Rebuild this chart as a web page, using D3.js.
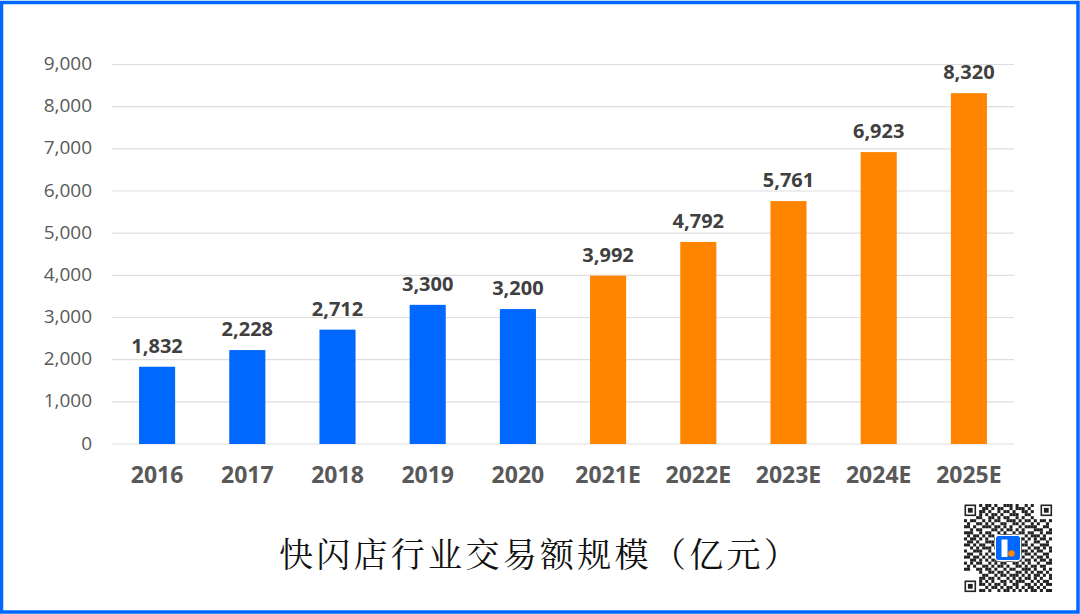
<!DOCTYPE html>
<html><head><meta charset="utf-8">
<script src="https://cdn.jsdelivr.net/npm/d3@7"></script>
<style>html,body{margin:0;padding:0;background:#fff}svg{display:block}</style></head>
<body><svg id="c" width="1080" height="614"></svg>
<script>
const categories=["2016","2017","2018","2019","2020","2021E","2022E","2023E","2024E","2025E"];
const values=[1832,2228,2712,3300,3200,3992,4792,5761,6923,8320];
const kinds=["a","a","a","a","a","e","e","e","e","e"];
const yTicks=[0,1000,2000,3000,4000,5000,6000,7000,8000,9000];
const title="快闪店行业交易额规模（亿元）";
const qrRows=[
"00000101101001110100101000000",
"00000011010110010111010000000",
"00000110100101101001101000000",
"00000101011010011100110000000",
"00001100110101100101001000000",
"10110010101100111010110101101",
"01001101010011001101001010010",
"11010011101101010010111100110",
"00101100011010110101000111001",
"11100101100101001011011001011",
"01011010110011110100101110100",
"10110101001100000011010101101",
"01101001110100000010100110010",
"11010110010100000011101001110",
"00101011101000000010010110101",
"10011100100100000011101011001",
"01100101011100000010110100110",
"11011010100011101101001011010",
"00110101011100110010110101101",
"10101100101011001101010010011",
"01010011010110100110101101100",
"11001101101001011001110100101",
"00000100110110100110101011010",
"00000011001011011101010110101",
"00000110110100101010110101001",
"00000101010011010111001010110",
"00000110101101001100110101011",
"00000001011010110101011010100",
"00000110100101101010101101011"];
const qrFinders=[[964.5,504.5],[1040.5,504.5],[964.5,580.5]];
const svg=d3.select("#c");
const W=1080,H=614;
const x=d3.scaleBand().domain(categories).range([112,1014]).paddingInner(0.6).paddingOuter(0.3);
const y=d3.scaleLinear().domain([0,9000]).range([444,64.5]);
const color=d3.scaleOrdinal().domain(["a","e"]).range(["#0068ff","#ff8500"]);
const font='"Open Sans","Noto Sans",sans-serif';
svg.append("rect").attr("x",1.5).attr("y",2.5).attr("width",W-3.5).attr("height",H-4.5).attr("fill","#fff").attr("stroke","#0068ff").attr("stroke-width",3.5);
svg.append("g").selectAll("line").data(yTicks).join("line")
 .attr("x1",112).attr("x2",1014).attr("y1",d=>y(d)).attr("y2",d=>y(d)).attr("stroke","#dedede").attr("stroke-width",1.2);
svg.append("g").selectAll("text").data(yTicks).join("text")
 .attr("x",92).attr("y",d=>y(d)+5.5).attr("text-anchor","end").attr("font-family",font).attr("font-size",19).attr("fill","#595959").text(d3.format(","));
svg.append("g").selectAll("rect").data(categories).join("rect")
 .attr("x",d=>x(d)).attr("width",x.bandwidth()).attr("y",(d,i)=>y(values[i])).attr("height",(d,i)=>y(0)-y(values[i])).attr("fill",(d,i)=>color(kinds[i]));
svg.append("g").selectAll("text").data(categories).join("text")
 .attr("x",d=>x(d)+x.bandwidth()/2).attr("y",(d,i)=>y(values[i])-14).attr("text-anchor","middle").attr("font-family",font).attr("font-weight",700).attr("font-size",20).attr("fill","#404040").text((d,i)=>d3.format(",")(values[i]));
svg.append("g").selectAll("text").data(categories).join("text")
 .attr("x",d=>x(d)+x.bandwidth()/2).attr("y",483).attr("text-anchor","middle").attr("font-family",font).attr("font-weight",700).attr("font-size",23).attr("fill","#595959").text(d=>d);
svg.append("text").attr("x",540).attr("y",567).attr("text-anchor","middle").attr("font-family",'"Noto Serif CJK SC","Noto Sans CJK SC",sans-serif').attr("font-size",34).attr("letter-spacing",3.3).attr("fill","#111").text(title);
// QR block
const qx=d3.scaleBand().domain(d3.range(29)).range([964,1052]);
const qy=d3.scaleBand().domain(d3.range(29)).range([504,592]);
const cells=qrRows.flatMap((r,j)=>[...r].map((c,i)=>({i,j,c}))).filter(d=>d.c==="1");
const qr=svg.append("g");
qr.selectAll("rect.m").data(cells).join("rect").attr("class","m")
 .attr("x",d=>qx(d.i)).attr("y",d=>qy(d.j)).attr("width",qx.bandwidth()).attr("height",qy.bandwidth()).attr("fill","#222");
qrFinders.forEach(([fx,fy])=>{
 qr.append("rect").attr("x",fx+.8).attr("y",fy+.8).attr("width",10).attr("height",10).attr("fill","#fff").attr("stroke","#222").attr("stroke-width",1.6);
 qr.append("rect").attr("x",fx+3.4).attr("y",fy+3.4).attr("width",4.8).attr("height",4.8).attr("fill","#222");
});
qr.append("rect").attr("x",995).attr("y",535).attr("width",26).attr("height",26).attr("rx",3).attr("fill","#fff");
qr.append("rect").attr("x",996).attr("y",536).attr("width",24).attr("height",24).attr("rx",2.5).attr("fill","#0068ff");
qr.append("rect").attr("x",1001.5).attr("y",539.5).attr("width",6).attr("height",17.5).attr("fill","#fff");
qr.append("circle").attr("cx",1011.5).attr("cy",553.5).attr("r",3.3).attr("fill","#ff8500");
</script></body></html>
